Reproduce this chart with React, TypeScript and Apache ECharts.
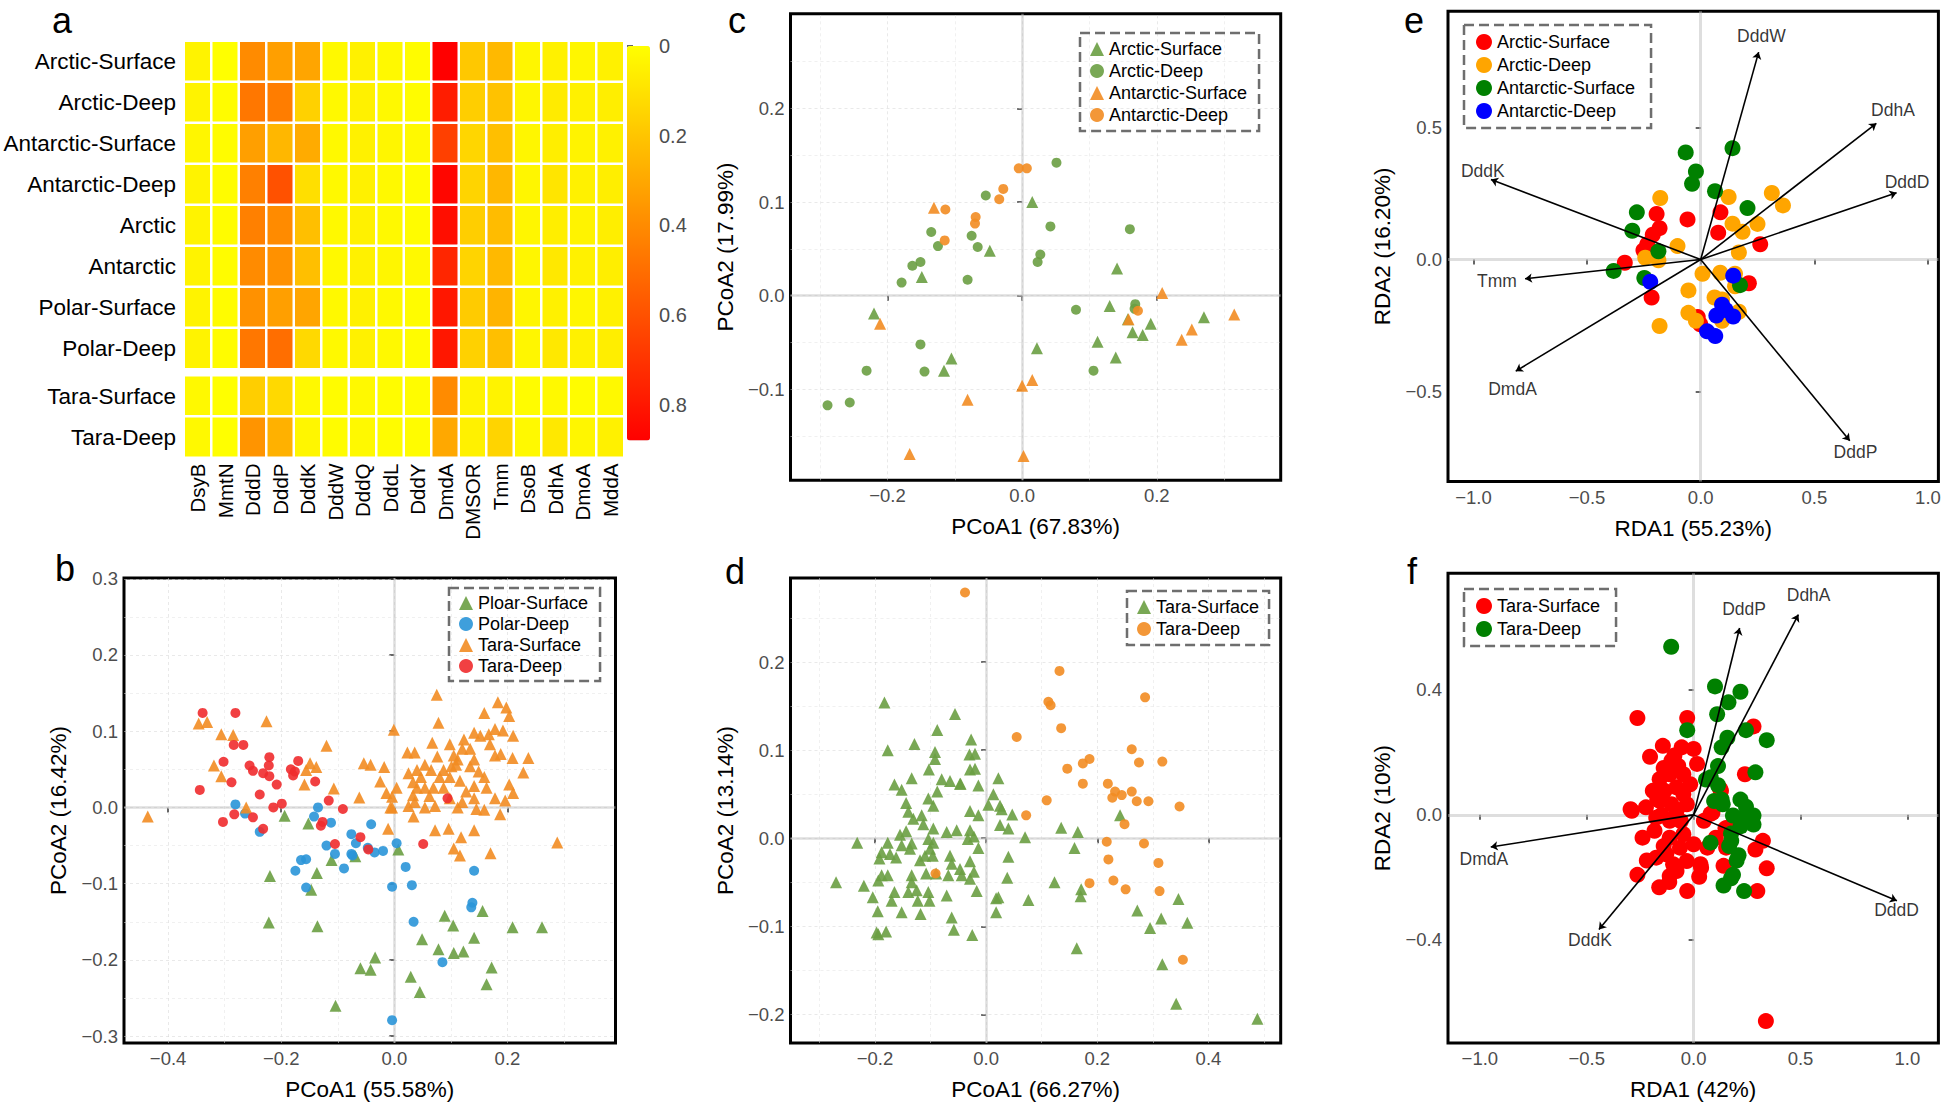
import React, { useEffect, useRef } from 'react';
import * as echarts from 'echarts';

// ---------------- Panel a : heatmap ----------------
const heatCols = ['DsyB', 'MmtN', 'DddD', 'DddP', 'DddK', 'DddW', 'DddQ', 'DddL', 'DddY', 'DmdA', 'DMSOR', 'Tmm', 'DsoB', 'DdhA', 'DmoA', 'MddA'];
const polarRows = ['Arctic-Surface', 'Arctic-Deep', 'Antarctic-Surface', 'Antarctic-Deep', 'Arctic', 'Antarctic', 'Polar-Surface', 'Polar-Deep'];
const taraRows = ['Tara-Surface', 'Tara-Deep'];
const polarVals = [
  [0.04, 0.00, 0.40, 0.33, 0.31, 0.02, 0.05, 0.02, 0.01, 0.88, 0.19, 0.24, 0.03, 0.05, 0.03, 0.05],
  [0.04, 0.01, 0.47, 0.45, 0.16, 0.02, 0.05, 0.02, 0.01, 0.78, 0.17, 0.21, 0.03, 0.07, 0.05, 0.06],
  [0.03, 0.01, 0.33, 0.25, 0.29, 0.02, 0.05, 0.03, 0.02, 0.66, 0.14, 0.22, 0.03, 0.06, 0.04, 0.05],
  [0.04, 0.01, 0.44, 0.60, 0.11, 0.02, 0.05, 0.02, 0.01, 0.86, 0.15, 0.25, 0.03, 0.09, 0.05, 0.06],
  [0.04, 0.01, 0.44, 0.40, 0.22, 0.02, 0.05, 0.02, 0.01, 0.83, 0.17, 0.23, 0.03, 0.06, 0.04, 0.06],
  [0.04, 0.01, 0.40, 0.38, 0.22, 0.02, 0.05, 0.03, 0.02, 0.75, 0.15, 0.24, 0.03, 0.08, 0.05, 0.06],
  [0.04, 0.01, 0.38, 0.33, 0.31, 0.02, 0.05, 0.02, 0.01, 0.80, 0.18, 0.26, 0.03, 0.05, 0.03, 0.05],
  [0.04, 0.01, 0.47, 0.50, 0.13, 0.02, 0.05, 0.02, 0.01, 0.80, 0.16, 0.22, 0.03, 0.08, 0.05, 0.06],
];
const taraVals = [
  [0.02, 0.00, 0.17, 0.13, 0.02, 0.01, 0.02, 0.01, 0.01, 0.40, 0.04, 0.04, 0.01, 0.02, 0.01, 0.02],
  [0.02, 0.00, 0.37, 0.27, 0.03, 0.01, 0.02, 0.01, 0.01, 0.30, 0.05, 0.15, 0.02, 0.08, 0.03, 0.05],
];
const heatMax = 0.88;
const heatTicks = [0, 0.2, 0.4, 0.6, 0.8];

// ---------------- Panel b ----------------
const bPloarSurface = [[-0.194,-0.011],[-0.152,-0.021],[0.007,-0.055],[-0.111,-0.069],[-0.069,-0.064],[-0.220,-0.090],[-0.137,-0.086],[-0.147,-0.108],[-0.222,-0.151],[-0.136,-0.156],[0.089,-0.142],[0.156,-0.136],[0.104,-0.155],[0.209,-0.157],[0.261,-0.157],[0.049,-0.173],[0.141,-0.171],[0.078,-0.186],[0.105,-0.191],[0.122,-0.189],[-0.034,-0.197],[-0.060,-0.211],[-0.042,-0.213],[0.172,-0.210],[0.029,-0.222],[0.163,-0.232],[0.045,-0.242],[-0.104,-0.260]];
const bPolarDeep = [[-0.281,0.004],[-0.264,-0.008],[-0.238,-0.032],[-0.135,0.000],[-0.142,-0.012],[-0.112,-0.020],[-0.041,-0.022],[-0.076,-0.035],[-0.068,-0.047],[-0.076,-0.061],[-0.074,-0.063],[-0.120,-0.050],[-0.105,-0.061],[-0.047,-0.053],[-0.035,-0.059],[-0.020,-0.057],[0.004,-0.047],[-0.165,-0.069],[-0.156,-0.068],[-0.175,-0.083],[-0.089,-0.080],[-0.156,-0.105],[-0.004,-0.104],[0.020,-0.078],[0.031,-0.102],[0.141,-0.083],[0.138,-0.125],[0.136,-0.131],[0.034,-0.150],[0.085,-0.203],[-0.004,-0.279]];
const bTaraSurface = [[-0.436,-0.012],[-0.346,0.110],[-0.331,0.112],[-0.306,0.096],[-0.285,0.095],[-0.319,0.055],[-0.306,0.041],[-0.226,0.113],[-0.262,0.000],[-0.159,0.030],[-0.149,0.058],[-0.138,0.053],[-0.156,0.049],[-0.120,0.081],[-0.107,0.025],[-0.062,0.013],[-0.054,0.058],[-0.042,0.056],[-0.018,0.053],[-0.025,0.034],[-0.001,0.102],[-0.011,-0.028],[-0.004,0.000],[0.075,0.148],[0.078,0.111],[0.067,0.085],[0.098,0.083],[0.023,0.072],[0.036,0.072],[0.076,0.067],[0.054,0.056],[0.065,0.049],[0.040,0.049],[0.025,0.045],[0.047,0.040],[0.033,0.033],[0.040,0.026],[0.033,0.016],[0.036,0.007],[0.034,-0.012],[0.004,0.026],[-0.004,0.014],[-0.014,0.019],[-0.007,0.000],[0.062,0.015],[0.072,0.002],[0.087,0.026],[0.098,0.040],[0.101,0.054],[0.112,0.063],[0.120,0.077],[0.123,0.089],[0.141,0.098],[0.152,0.094],[0.159,0.124],[0.167,0.096],[0.178,0.103],[0.192,0.101],[0.183,0.138],[0.198,0.131],[0.203,0.120],[0.210,0.094],[0.169,0.083],[0.178,0.068],[0.188,0.070],[0.209,0.065],[0.237,0.065],[0.228,0.046],[0.203,0.030],[0.210,0.019],[0.196,0.009],[0.178,0.012],[0.163,0.026],[0.141,0.063],[0.134,0.054],[0.149,0.047],[0.159,0.040],[0.141,0.028],[0.127,0.021],[0.120,0.007],[0.141,0.012],[0.145,-0.002],[0.159,-0.003],[0.112,0.000],[0.098,0.012],[0.116,0.035],[0.087,0.049],[0.105,0.068],[0.109,0.056],[0.134,0.077],[0.187,-0.009],[0.072,-0.030],[0.096,-0.028],[0.141,-0.030],[0.118,-0.039],[0.105,-0.054],[0.116,-0.063],[0.170,-0.060],[0.288,-0.046],[0.054,0.000],[0.025,0.002],[0.054,0.026],[0.080,0.040],[0.069,0.026]];
const bTaraDeep = [[-0.339,0.124],[-0.281,0.124],[-0.284,0.082],[-0.267,0.082],[-0.302,0.060],[-0.256,0.055],[-0.250,0.048],[-0.221,0.066],[-0.222,0.055],[-0.232,0.045],[-0.221,0.041],[-0.208,0.030],[-0.288,0.033],[-0.344,0.023],[-0.238,0.017],[-0.214,0.000],[-0.199,0.005],[-0.183,0.050],[-0.170,0.061],[-0.176,0.047],[-0.179,0.042],[-0.140,0.034],[-0.283,-0.009],[-0.250,-0.013],[-0.303,-0.019],[-0.232,-0.028],[-0.116,0.009],[-0.091,-0.002],[-0.127,-0.019],[-0.130,-0.024],[-0.105,-0.048],[-0.060,-0.039],[-0.046,-0.055],[0.051,-0.048],[0.094,0.012]];

// ---------------- Panel c ----------------
const cArcticSurface = [[0.015,0.100],[-0.048,0.048],[-0.149,0.020],[0.141,0.029],[-0.220,-0.019],[0.130,-0.011],[0.164,-0.039],[0.179,-0.042],[0.191,-0.030],[0.157,-0.025],[0.270,-0.023],[0.112,-0.049],[0.139,-0.066],[0.022,-0.056],[-0.105,-0.067],[-0.116,-0.080]];
const cArcticDeep = [[0.051,0.142],[-0.054,0.107],[0.160,0.071],[0.042,0.074],[-0.135,0.068],[-0.075,0.064],[-0.125,0.053],[-0.066,0.052],[0.027,0.044],[0.023,0.036],[-0.151,0.036],[-0.163,0.032],[-0.179,0.014],[-0.081,0.017],[0.080,-0.015],[0.168,-0.009],[0.167,-0.014],[-0.151,-0.052],[-0.231,-0.080],[-0.145,-0.081],[0.106,-0.080],[-0.289,-0.117],[-0.256,-0.114]];
const cAntarcticSurface = [[-0.131,0.094],[0.208,0.003],[-0.211,-0.030],[0.158,-0.025],[0.315,-0.020],[0.252,-0.036],[0.237,-0.047],[0.000,-0.096],[0.015,-0.090],[-0.081,-0.111],[-0.167,-0.169],[0.002,-0.171]];
const cAntarcticDeep = [[-0.005,0.136],[0.007,0.136],[-0.028,0.114],[-0.034,0.103],[-0.114,0.092],[-0.069,0.084],[-0.070,0.077],[-0.115,0.059],[0.172,-0.016]];

// ---------------- Panel d ----------------
const dTaraSurface = [[-0.183,0.154],[-0.056,0.141],[-0.088,0.123],[-0.177,0.100],[-0.129,0.107],[-0.092,0.098],[-0.092,0.090],[-0.103,0.078],[-0.134,0.068],[-0.165,0.061],[-0.152,0.055],[-0.080,0.067],[-0.065,0.065],[-0.047,0.062],[-0.088,0.053],[-0.104,0.045],[-0.095,0.037],[-0.144,0.040],[-0.140,0.030],[-0.131,0.022],[-0.116,0.026],[-0.113,0.016],[-0.095,0.011],[-0.144,0.008],[-0.155,0.004],[-0.071,0.007],[-0.053,0.009],[-0.232,-0.005],[-0.177,-0.005],[-0.152,-0.008],[-0.134,-0.006],[-0.104,-0.001],[-0.095,-0.005],[-0.101,-0.012],[-0.110,-0.020],[-0.137,-0.012],[-0.188,-0.016],[-0.192,-0.023],[-0.173,-0.018],[-0.162,-0.022],[-0.119,-0.025],[-0.096,-0.020],[-0.065,-0.020],[-0.062,-0.029],[-0.047,-0.035],[-0.044,-0.042],[-0.068,-0.042],[-0.090,-0.040],[-0.108,-0.040],[-0.134,-0.042],[-0.134,-0.050],[-0.177,-0.042],[-0.188,-0.042],[-0.194,-0.048],[-0.220,-0.054],[-0.270,-0.050],[-0.204,-0.067],[-0.165,-0.061],[-0.170,-0.071],[-0.140,-0.061],[-0.125,-0.059],[-0.104,-0.061],[-0.102,-0.071],[-0.123,-0.071],[-0.071,-0.065],[-0.195,-0.083],[-0.152,-0.084],[-0.118,-0.086],[-0.062,-0.090],[-0.027,0.112],[-0.030,0.095],[-0.020,0.096],[-0.029,0.078],[-0.020,0.079],[-0.014,0.060],[-0.046,0.062],[0.022,0.068],[0.013,0.050],[0.004,0.038],[0.025,0.037],[0.028,0.033],[-0.029,0.031],[-0.014,0.026],[0.047,0.027],[0.025,0.015],[0.040,0.011],[0.070,0.001],[-0.029,0.009],[-0.022,0.002],[-0.033,-0.001],[-0.014,-0.011],[-0.029,-0.026],[0.040,-0.021],[-0.022,-0.038],[-0.029,-0.046],[0.038,-0.045],[-0.017,-0.060],[0.018,-0.068],[0.022,-0.067],[0.018,-0.084],[0.076,-0.070],[-0.058,-0.104],[-0.025,-0.110],[-0.180,-0.106],[-0.197,-0.107],[-0.194,-0.109],[0.135,0.012],[0.165,0.007],[0.159,-0.011],[0.123,-0.050],[0.171,-0.058],[0.170,-0.066],[0.241,0.026],[0.346,-0.069],[0.272,-0.082],[0.315,-0.091],[0.362,-0.096],[0.295,-0.102],[0.163,-0.125],[0.317,-0.143],[0.342,-0.188],[0.488,-0.205]];
const dTaraDeep = [[-0.038,0.279],[0.132,0.190],[0.286,0.160],[0.112,0.155],[0.116,0.151],[0.135,0.125],[0.055,0.115],[0.262,0.101],[0.317,0.087],[0.275,0.086],[0.186,0.090],[0.174,0.085],[0.146,0.079],[0.174,0.062],[0.219,0.062],[0.232,0.053],[0.262,0.053],[0.227,0.046],[0.244,0.049],[0.271,0.042],[0.292,0.042],[0.348,0.036],[0.109,0.043],[0.072,0.026],[0.249,0.016],[0.217,-0.004],[0.284,-0.006],[0.220,-0.024],[0.310,-0.028],[-0.091,-0.040],[0.186,-0.051],[0.229,-0.048],[0.251,-0.058],[0.312,-0.060],[0.354,-0.138]];

// ---------------- Panel e ----------------
const eArcticSurface = [[-0.194,0.173],[-0.058,0.152],[0.087,0.179],[0.077,0.102],[-0.181,0.119],[-0.211,0.094],[-0.235,0.058],[-0.252,0.035],[0.262,0.058],[-0.334,-0.012],[-0.216,-0.144],[0.212,-0.090],[-0.013,-0.218],[-0.002,-0.245]];
const eArcticDeep = [[-0.178,0.233],[0.123,0.237],[0.313,0.252],[0.362,0.205],[0.140,0.136],[0.250,0.135],[0.184,0.105],[-0.102,0.051],[0.168,0.027],[-0.244,0.007],[-0.186,-0.003],[0.008,-0.054],[0.086,-0.050],[0.151,-0.054],[0.151,-0.101],[-0.054,-0.117],[0.061,-0.144],[0.094,-0.151],[0.168,-0.198],[-0.054,-0.202],[-0.021,-0.232],[0.094,-0.232],[-0.181,-0.252]];
const eAntarcticSurface = [[-0.066,0.406],[0.140,0.422],[-0.021,0.334],[-0.038,0.287],[0.063,0.259],[0.206,0.195],[-0.281,0.179],[-0.301,0.109],[-0.186,0.031],[-0.383,-0.043],[-0.248,-0.070],[0.173,-0.097]];
const eAntarcticDeep = [[-0.222,-0.084],[0.143,-0.061],[0.094,-0.171],[0.069,-0.212],[0.143,-0.216],[0.028,-0.272],[0.064,-0.290],[0.110,-0.191]];
const eArrowNames = ['DddW', 'DdhA', 'DddD', 'DddK', 'Tmm', 'DmdA', 'DddP'];
const eArrowEnds = [[0.255,0.786],[0.773,0.516],[0.862,0.253],[-0.923,0.303],[-0.773,-0.073],[-0.814,-0.423],[0.656,-0.687]];
const eLabelPos = [[0.267,0.846],[0.846,0.566],[0.908,0.294],[-0.959,0.337],[-0.897,-0.081],[-0.828,-0.491],[0.681,-0.730]];

// ---------------- Panel f ----------------
const fTaraSurface = [[-0.263,0.310],[-0.030,0.310],[0.280,0.283],[0.240,0.130],[0.123,0.084],[0.079,0.003],[0.324,-0.083],[0.289,-0.111],[0.342,-0.171],[0.298,-0.244],[0.338,-0.660],[-0.263,-0.192],[-0.289,0.013],[0.149,-0.043],[0.140,-0.163],[0.035,-0.169],[-0.144,0.221],[-0.204,0.186],[-0.056,0.216],[0.000,0.211],[-0.104,0.173],[-0.072,0.157],[0.016,0.163],[-0.159,0.114],[-0.112,0.130],[-0.048,0.130],[-0.016,0.098],[-0.191,0.077],[-0.136,0.077],[-0.080,0.088],[-0.048,0.066],[-0.295,0.018],[-0.223,0.024],[-0.159,0.045],[-0.104,0.034],[-0.032,0.034],[-0.080,0.013],[-0.175,-0.009],[-0.112,-0.019],[0.088,0.007],[0.128,0.077],[0.048,-0.019],[-0.239,-0.073],[-0.183,-0.051],[-0.112,-0.073],[-0.048,-0.062],[-0.064,-0.105],[0.000,-0.094],[0.064,-0.105],[-0.175,-0.137],[-0.128,-0.126],[-0.096,-0.158],[-0.032,-0.148],[0.032,-0.158],[-0.112,-0.196],[0.104,-0.073],[0.160,-0.041],[0.152,-0.105],[-0.161,-0.232],[-0.030,-0.244],[-0.114,-0.215],[-0.219,-0.146],[0.026,-0.198],[-0.140,0.150],[-0.090,0.190],[-0.170,0.050],[-0.060,-0.020],[-0.140,-0.100],[-0.080,-0.180],[-0.150,0.000]];
const fTaraDeep = [[-0.105,0.538],[0.100,0.411],[0.219,0.394],[0.163,0.360],[0.110,0.322],[-0.030,0.271],[0.245,0.271],[0.342,0.239],[0.158,0.247],[0.131,0.216],[0.114,0.156],[0.289,0.136],[0.058,0.113],[0.114,0.095],[0.096,0.044],[0.131,0.049],[0.219,0.049],[0.245,0.026],[0.184,-0.002],[0.280,-0.002],[0.236,-0.008],[0.219,-0.037],[0.280,-0.031],[0.175,-0.060],[0.079,-0.089],[0.166,-0.100],[0.210,-0.129],[0.201,-0.146],[0.184,-0.192],[0.140,-0.226],[0.236,-0.244],[0.175,-0.203],[0.080,0.120],[0.136,0.034],[0.176,-0.083]];
const fArrowNames = ['DddP', 'DdhA', 'DddD', 'DddK', 'DmdA'];
const fArrowEnds = [[0.215,0.598],[0.490,0.641],[0.951,-0.275],[-0.443,-0.367],[-0.949,-0.103]];
const fLabelPos = [[0.236,0.659],[0.538,0.702],[0.949,-0.303],[-0.485,-0.399],[-0.981,-0.140]];

// ---------------- axes ----------------
const bXRange = [-0.478, 0.391], bYRange = [-0.309, 0.301];
const bXTicks = [-0.4, -0.2, 0, 0.2], bYTicks = [-0.3, -0.2, -0.1, 0, 0.1, 0.2, 0.3];
const bXMinor = [-0.3, -0.1, 0.1, 0.3], bYMinor = [-0.25, -0.15, -0.05, 0.05, 0.15, 0.25];
const cXRange = [-0.344, 0.384], cYRange = [-0.197, 0.301];
const cXTicks = [-0.2, 0, 0.2], cYTicks = [-0.1, 0, 0.1, 0.2];
const cXMinor = [-0.3, -0.1, 0.1, 0.3], cYMinor = [-0.15, -0.05, 0.05, 0.15, 0.25];
const dXRange = [-0.352, 0.53], dYRange = [-0.2325, 0.2955];
const dXTicks = [-0.2, 0, 0.2, 0.4], dYTicks = [-0.2, -0.1, 0, 0.1, 0.2];
const dXMinor = [-0.3, -0.1, 0.1, 0.3, 0.5], dYMinor = [-0.15, -0.05, 0.05, 0.15, 0.25];
const eXRange = [-1.112, 1.046], eYRange = [-0.841, 0.941];
const eXTicks = [-1, -0.5, 0, 0.5, 1], eYTicks = [-0.5, 0, 0.5];
const fXRange = [-1.149, 1.145], fYRange = [-0.73, 0.773];
const fXTicks = [-1, -0.5, 0, 0.5, 1], fYTicks = [-0.4, 0, 0.4];

const FONT = "'Liberation Sans', Arial, Helvetica, sans-serif";
const GREEN = '#6A9E42', BLUE = '#2A95D8', ORANGE = '#F28C22', RED = '#EF2B2E';

const fmt1 = (v: number) => (v < -1e-9 ? '\u2212' : '') + Math.abs(v).toFixed(1);

function valueAxis(gi: number, range: number[], ticks: number[], name: string, isY: boolean) {
  return {
    type: 'value', gridIndex: gi, min: range[0], max: range[1],
    axisLine: { show: false }, splitLine: { show: false },
    axisTick: { show: true, length: 5, customValues: ticks, lineStyle: { color: '#333', width: 1.5 } },
    axisLabel: { customValues: ticks, color: '#4D4D4D', fontSize: 18.5, margin: 6, formatter: fmt1, fontFamily: FONT },
    name, nameLocation: 'middle', nameGap: isY ? 54 : 35,
    nameTextStyle: { fontSize: 22.5, color: '#000', fontFamily: FONT },
  };
}

function lineSegs(gi: number, xr: number[], yr: number[], xs: number[], ys: number[], style: any, z: number) {
  const data = [
    ...xs.map((v) => ({ coords: [[v, yr[0]], [v, yr[1]]] })),
    ...ys.map((v) => ({ coords: [[xr[0], v], [xr[1], v]] })),
  ];
  return { type: 'lines', coordinateSystem: 'cartesian2d', xAxisIndex: gi, yAxisIndex: gi, data, symbol: 'none', lineStyle: style, z, silent: true, animation: false };
}

function pts(name: string, gi: number, data: number[][], symbol: string, size: number, color: string, opacity: number) {
  return { type: 'scatter', name, xAxisIndex: gi, yAxisIndex: gi, data, symbol, symbolSize: size, itemStyle: { color, opacity }, z: 3, silent: true };
}

function arrows(gi: number, ends: number[][]) {
  return {
    type: 'lines', coordinateSystem: 'cartesian2d', xAxisIndex: gi, yAxisIndex: gi,
    data: ends.map((e) => ({ coords: [[0, 0], e] })),
    symbol: ['none', 'arrow'], symbolSize: 7, lineStyle: { color: '#000', width: 1.6, opacity: 1 }, z: 5, silent: true,
  };
}

function arrowLabels(gi: number, names: string[], pos: number[][]) {
  return {
    type: 'scatter', xAxisIndex: gi, yAxisIndex: gi, symbolSize: 1, z: 6, silent: true,
    itemStyle: { color: 'rgba(0,0,0,0)' },
    data: pos.map((p, i) => ({ value: p, name: names[i] })),
    label: { show: true, position: 'inside', formatter: (p: any) => p.name, fontSize: 17.5, color: '#000', fontFamily: FONT },
  };
}

function legend(left: number, top: number, items: { name: string; icon: string }[], size: number, pad: number[], gap: number) {
  return {
    orient: 'vertical', left, top, itemWidth: size, itemHeight: size, itemGap: gap, padding: pad,
    borderColor: '#6E6E6E', borderWidth: 2.5, borderType: 'dashed', selectedMode: false,
    textStyle: { fontSize: 18, color: '#000', fontFamily: FONT },
    formatter: (n: string) => n.split('|')[1],
    data: items,
  };
}

function buildOption() {
  const frame = { show: true, borderColor: '#000', borderWidth: 3 };
  const grids = [
    { left: 184, top: 41, width: 440, height: 328 },
    { left: 184, top: 375.5, width: 440, height: 82 },
    { left: 627, top: 46, width: 23, height: 394.6 },
    { left: 124, top: 578, width: 491.5, height: 465.7, ...frame },
    { left: 790.5, top: 13.7, width: 490.2, height: 466.6, ...frame },
    { left: 790.5, top: 578, width: 490.2, height: 465.7, ...frame },
    { left: 1448, top: 11.2, width: 490.4, height: 470.3, ...frame },
    { left: 1448, top: 573.3, width: 490.4, height: 472.7, ...frame },
  ];
  const xAxis: any[] = [
    { type: 'category', gridIndex: 0, data: heatCols, show: false },
    {
      type: 'category', gridIndex: 1, data: heatCols, axisLine: { show: false }, axisTick: { show: false },
      axisLabel: { interval: 0, rotate: 90, fontSize: 20.5, color: '#000', margin: 6, fontFamily: FONT },
    },
    { type: 'value', gridIndex: 2, show: false, min: 0, max: 1 },
    valueAxis(3, bXRange, bXTicks, 'PCoA1 (55.58%)', false),
    valueAxis(4, cXRange, cXTicks, 'PCoA1 (67.83%)', false),
    valueAxis(5, dXRange, dXTicks, 'PCoA1 (66.27%)', false),
    valueAxis(6, eXRange, eXTicks, 'RDA1 (55.23%)', false),
    valueAxis(7, fXRange, fXTicks, 'RDA1 (42%)', false),
  ];
  const rowLabel = { interval: 0, fontSize: 22.5, color: '#000', margin: 8, fontFamily: FONT };
  const yAxis: any[] = [
    { type: 'category', gridIndex: 0, data: polarRows, inverse: true, axisLine: { show: false }, axisTick: { show: false }, axisLabel: rowLabel },
    { type: 'category', gridIndex: 1, data: taraRows, inverse: true, axisLine: { show: false }, axisTick: { show: false }, axisLabel: rowLabel },
    {
      type: 'value', gridIndex: 2, position: 'right', min: 0, max: heatMax, inverse: true,
      axisLine: { show: false }, splitLine: { show: false },
      axisTick: { show: true, length: 6, customValues: heatTicks, lineStyle: { color: '#333', width: 1.5 } },
      axisLabel: { customValues: heatTicks, color: '#4D4D4D', fontSize: 20, margin: 9, fontFamily: FONT, formatter: (v: number) => (v === 0 ? '0' : v.toFixed(1)) },
    },
    valueAxis(3, bYRange, bYTicks, 'PCoA2 (16.42%)', true),
    valueAxis(4, cYRange, cYTicks, 'PCoA2 (17.99%)', true),
    valueAxis(5, dYRange, dYTicks, 'PCoA2 (13.14%)', true),
    valueAxis(6, eYRange, eYTicks, 'RDA2 (16.20%)', true),
    valueAxis(7, fYRange, fYTicks, 'RDA2 (10%)', true),
  ];

  const heat1: number[][] = [];
  polarVals.forEach((row, r) => row.forEach((v, c) => heat1.push([c, r, v])));
  const heat2: number[][] = [];
  taraVals.forEach((row, r) => row.forEach((v, c) => heat2.push([c, r, v])));
  const heatStyle = { borderColor: '#fff', borderWidth: 2.5 };

  const gridStyle = { color: '#D4D4D4', width: 1, type: [3, 3] };
  const minorStyle = { color: '#E2E2E2', width: 1, type: [3, 3] };
  const zeroStyle = { color: '#BEBEBE', width: 2.5, type: 'solid' };

  const series: any[] = [
    { type: 'heatmap', name: 'heatPolar', xAxisIndex: 0, yAxisIndex: 0, data: heat1, itemStyle: heatStyle, silent: true },
    { type: 'heatmap', name: 'heatTara', xAxisIndex: 1, yAxisIndex: 1, data: heat2, itemStyle: heatStyle, silent: true },
    // panel b
    lineSegs(3, bXRange, bYRange, bXTicks, bYTicks, gridStyle, 1),
    lineSegs(3, bXRange, bYRange, bXMinor, bYMinor, minorStyle, 1),
    lineSegs(3, bXRange, bYRange, [0], [0], zeroStyle, 2),
    pts('b|Ploar-Surface', 3, bPloarSurface, 'triangle', 12, GREEN, 0.9),
    pts('b|Polar-Deep', 3, bPolarDeep, 'circle', 10, BLUE, 0.9),
    pts('b|Tara-Surface', 3, bTaraSurface, 'triangle', 12, ORANGE, 0.9),
    pts('b|Tara-Deep', 3, bTaraDeep, 'circle', 10, RED, 0.9),
    // panel c
    lineSegs(4, cXRange, cYRange, cXTicks, cYTicks, gridStyle, 1),
    lineSegs(4, cXRange, cYRange, cXMinor, cYMinor, minorStyle, 1),
    lineSegs(4, cXRange, cYRange, [0], [0], zeroStyle, 2),
    pts('c|Arctic-Surface', 4, cArcticSurface, 'triangle', 12, GREEN, 0.9),
    pts('c|Arctic-Deep', 4, cArcticDeep, 'circle', 10, GREEN, 0.9),
    pts('c|Antarctic-Surface', 4, cAntarcticSurface, 'triangle', 12, ORANGE, 0.9),
    pts('c|Antarctic-Deep', 4, cAntarcticDeep, 'circle', 10, ORANGE, 0.9),
    // panel d
    lineSegs(5, dXRange, dYRange, dXTicks, dYTicks, gridStyle, 1),
    lineSegs(5, dXRange, dYRange, dXMinor, dYMinor, minorStyle, 1),
    lineSegs(5, dXRange, dYRange, [0], [0], zeroStyle, 2),
    pts('d|Tara-Surface', 5, dTaraSurface, 'triangle', 12, GREEN, 0.9),
    pts('d|Tara-Deep', 5, dTaraDeep, 'circle', 10, ORANGE, 0.9),
    // panel e
    lineSegs(6, eXRange, eYRange, [0], [0], { color: '#BEBEBE', width: 3, type: 'solid' }, 2),
    pts('e|Arctic-Surface', 6, eArcticSurface, 'circle', 16, '#FF0000', 1),
    pts('e|Arctic-Deep', 6, eArcticDeep, 'circle', 16, '#FFA500', 1),
    pts('e|Antarctic-Surface', 6, eAntarcticSurface, 'circle', 16, '#008000', 1),
    pts('e|Antarctic-Deep', 6, eAntarcticDeep, 'circle', 16, '#0000FF', 1),
    arrows(6, eArrowEnds),
    arrowLabels(6, eArrowNames, eLabelPos),
    // panel f
    lineSegs(7, fXRange, fYRange, [0], [0], { color: '#BEBEBE', width: 3, type: 'solid' }, 2),
    pts('f|Tara-Surface', 7, fTaraSurface, 'circle', 16, '#FF0000', 1),
    pts('f|Tara-Deep', 7, fTaraDeep, 'circle', 16, '#008000', 1),
    arrows(7, fArrowEnds),
    arrowLabels(7, fArrowNames, fLabelPos),
  ];

  const letters = [
    ['a', 62, 20], ['b', 65, 568], ['c', 737, 20], ['d', 735, 571], ['e', 1414, 20], ['f', 1412, 571],
  ].map(([t, x, y]) => ({
    type: 'text', x, y,
    style: { text: t, fontSize: 36, fontFamily: FONT, fill: '#000', textAlign: 'center', textVerticalAlign: 'middle', align: 'center', verticalAlign: 'middle' },
  }));

  return {
    animation: false,
    textStyle: { fontFamily: FONT },
    backgroundColor: '#fff',
    grid: grids,
    xAxis, yAxis,
    visualMap: {
      type: 'continuous', min: 0, max: heatMax, seriesIndex: [0, 1], orient: 'vertical',
      left: 627, top: 46, itemWidth: 23, itemHeight: 394.6, padding: 0, inverse: true, calculable: false,
      inRange: { color: ['#FFFF00', '#FF0000'] }, text: null, hoverLink: false,
    },
    legend: [
      legend(449, 588, [
        { name: 'b|Ploar-Surface', icon: 'triangle' }, { name: 'b|Polar-Deep', icon: 'circle' },
        { name: 'b|Tara-Surface', icon: 'triangle' }, { name: 'b|Tara-Deep', icon: 'circle' },
      ], 14, [6, 12, 6, 10], 3),
      legend(1080, 33, [
        { name: 'c|Arctic-Surface', icon: 'triangle' }, { name: 'c|Arctic-Deep', icon: 'circle' },
        { name: 'c|Antarctic-Surface', icon: 'triangle' }, { name: 'c|Antarctic-Deep', icon: 'circle' },
      ], 14, [7, 12, 7, 10], 4),
      legend(1127, 591, [
        { name: 'd|Tara-Surface', icon: 'triangle' }, { name: 'd|Tara-Deep', icon: 'circle' },
      ], 14, [7, 10, 7, 10], 4),
      legend(1464, 25, [
        { name: 'e|Arctic-Surface', icon: 'circle' }, { name: 'e|Arctic-Deep', icon: 'circle' },
        { name: 'e|Antarctic-Surface', icon: 'circle' }, { name: 'e|Antarctic-Deep', icon: 'circle' },
      ], 16, [8, 16, 8, 12], 5),
      legend(1464, 589, [
        { name: 'f|Tara-Surface', icon: 'circle' }, { name: 'f|Tara-Deep', icon: 'circle' },
      ], 16, [8, 16, 8, 12], 5),
    ],
    graphic: { elements: letters },
    series,
  };
}

export default function App() {
  const ref = useRef<HTMLDivElement>(null);
  useEffect(() => {
    const chart = echarts.init(ref.current as HTMLDivElement, null, { renderer: 'svg' });
    chart.setOption(buildOption() as any);
    return () => chart.dispose();
  }, []);
  return (
    <div
      ref={ref}
      style={{ position: 'fixed', left: 0, top: 0, width: 1946, height: 1102, background: '#fff' }}
    />
  );
}
